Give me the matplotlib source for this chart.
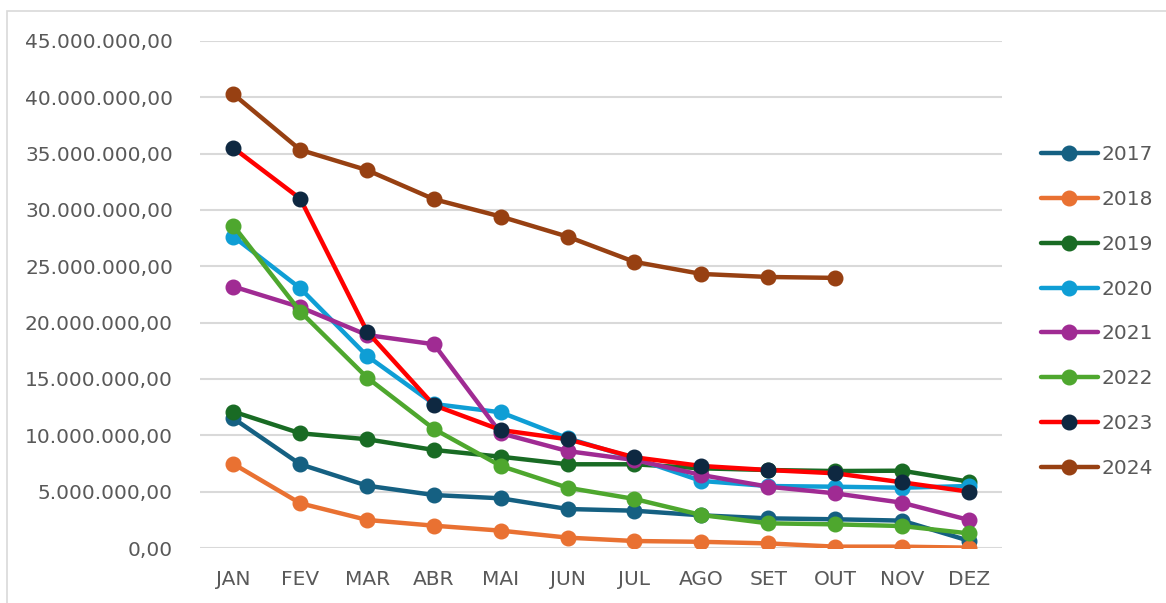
import matplotlib.pyplot as plt
from matplotlib.ticker import FuncFormatter
from matplotlib.patches import Rectangle

meses = ['JAN', 'FEV', 'MAR', 'ABR', 'MAI', 'JUN', 'JUL', 'AGO', 'SET', 'OUT', 'NOV', 'DEZ']

# valores mensais por ano (R$)
v2017 = [11.5e6, 7.43e6, 5.53e6, 4.70e6, 4.41e6, 3.46e6, 3.31e6, 2.90e6, 2.63e6, 2.55e6, 2.43e6, 0.65e6]
v2018 = [7.46e6, 3.97e6, 2.49e6, 1.98e6, 1.54e6, 0.92e6, 0.62e6, 0.55e6, 0.41e6, 0.12e6, 0.12e6, 0.03e6]
v2019 = [12.1e6, 10.18e6, 9.65e6, 8.70e6, 8.10e6, 7.43e6, 7.43e6, 7.07e6, 6.92e6, 6.83e6, 6.86e6, 5.89e6]
v2020 = [27.63e6, 23.05e6, 17.04e6, 12.78e6, 12.04e6, 9.74e6, 7.96e6, 5.95e6, 5.50e6, 5.44e6, 5.35e6, 5.50e6]
v2021 = [23.2e6, 21.37e6, 18.9e6, 18.08e6, 10.18e6, 8.60e6, 7.81e6, 6.48e6, 5.44e6, 4.85e6, 4.02e6, 2.49e6]
v2022 = [28.6e6, 20.98e6, 15.12e6, 10.56e6, 7.28e6, 5.35e6, 4.35e6, 2.93e6, 2.19e6, 2.10e6, 1.95e6, 1.30e6]
v2023 = [35.5e6, 31.0e6, 19.2e6, 12.67e6, 10.47e6, 9.65e6, 8.05e6, 7.28e6, 6.92e6, 6.63e6, 5.83e6, 5.0e6]
v2024 = [40.27e6, 35.33e6, 33.53e6, 30.95e6, 29.41e6, 27.63e6, 25.39e6, 24.32e6, 24.05e6, 23.97e6]

series = [
    ('2017', v2017, '#156082', '#156082'),
    ('2018', v2018, '#E97132', '#E97132'),
    ('2019', v2019, '#196B24', '#196B24'),
    ('2020', v2020, '#0F9ED5', '#0F9ED5'),
    ('2021', v2021, '#A02B93', '#A02B93'),
    ('2022', v2022, '#4EA72E', '#4EA72E'),
    ('2023', v2023, '#FF0000', '#0E2841'),
    ('2024', v2024, '#974012', '#974012'),
]

fig = plt.figure(figsize=(11.66, 6.03), dpi=100)
ax = fig.add_axes([0.1715, 0.0912, 0.688, 0.841])

# moldura do gráfico
fig.patches.append(Rectangle((0.006, -0.01), 1.0, 0.992, transform=fig.transFigure,
                             fill=False, edgecolor='#D9D9D9', linewidth=1.2))

for nome, vals, cor, cor_marc in series:
    ax.plot(range(len(vals)), vals, color=cor, linewidth=3.2, marker='o', markersize=10.5,
            markerfacecolor=cor_marc, markeredgecolor=cor_marc, label=nome,
            solid_capstyle='round')

ax.set_xlim(-0.5, 11.5)
ax.set_ylim(0, 45e6)
ax.set_xticks(range(12))
ax.set_xticklabels(meses)
ax.set_yticks([i * 5e6 for i in range(10)])


def fmt(v, pos):
    s = f'{v:,.2f}'
    return s.replace(',', 'X').replace('.', ',').replace('X', '.')


ax.yaxis.set_major_formatter(FuncFormatter(fmt))
ax.tick_params(axis='both', length=0, labelsize=14.5, labelcolor='#595959')
ax.tick_params(axis='y', pad=19.5)
ax.tick_params(axis='x', pad=16)
ax.grid(axis='y', color='#D9D9D9', linewidth=1.5)
ax.set_axisbelow(True)
for s in ax.spines.values():
    s.set_visible(False)

leg = fig.legend(loc='center left', bbox_to_anchor=(0.893, 0.4834), frameon=False,
                 fontsize=14.5, labelcolor='#595959', handlelength=2.8, handletextpad=0.2,
                 labelspacing=1.28, borderpad=0, borderaxespad=0)

fig.savefig('out.png', dpi=100)
